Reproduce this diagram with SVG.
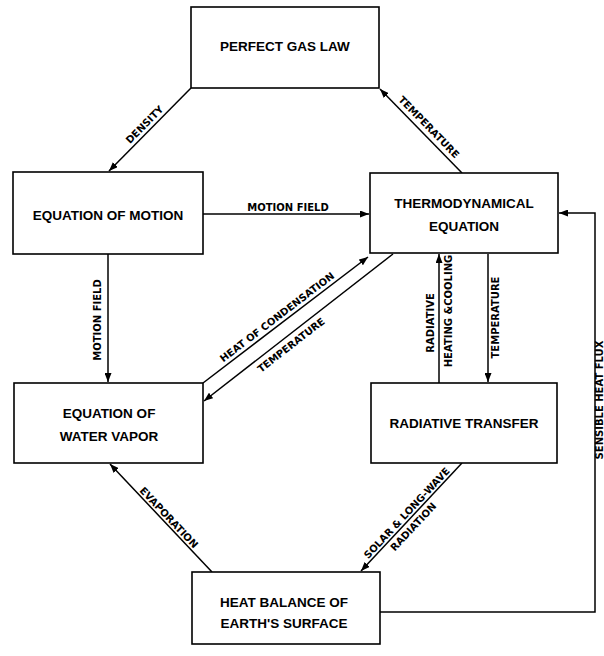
<svg xmlns="http://www.w3.org/2000/svg" width="604" height="656" viewBox="0 0 604 656">
<style>
.box{fill:#fff;stroke:#000;stroke-width:1.6}
.bt{font-family:"Liberation Sans",Arial,sans-serif;font-weight:bold;font-size:13.5px;text-anchor:middle;fill:#000}
.lt{font-family:"DejaVu Sans",sans-serif;font-weight:bold;font-size:10px;text-anchor:middle;fill:#000}
.ln{fill:none;stroke:#000;stroke-width:1.5}
</style>
<defs>
<marker id="ah" markerUnits="userSpaceOnUse" markerWidth="9" markerHeight="7" refX="9" refY="3.5" orient="auto">
<path d="M0,0 L9,3.5 L0,7 z" fill="#000"/>
</marker>
</defs>
<rect width="604" height="656" fill="#fff"/>
<g id="connectors">
<line class="ln" x1="191" y1="88" x2="109" y2="171" marker-end="url(#ah)"/>
<line class="ln" x1="462" y1="173" x2="380" y2="89" marker-end="url(#ah)"/>
<line class="ln" x1="203" y1="214" x2="369" y2="214" marker-end="url(#ah)"/>
<line class="ln" x1="108" y1="254" x2="108" y2="382" marker-end="url(#ah)"/>
<line class="ln" x1="203" y1="383" x2="368" y2="257" marker-end="url(#ah)"/>
<line class="ln" x1="393" y1="254" x2="204" y2="401" marker-end="url(#ah)"/>
<line class="ln" x1="439" y1="383" x2="439" y2="254" marker-end="url(#ah)"/>
<line class="ln" x1="488" y1="254" x2="488" y2="382" marker-end="url(#ah)"/>
<line class="ln" x1="462" y1="463" x2="361" y2="571" marker-end="url(#ah)"/>
<line class="ln" x1="212" y1="572" x2="110" y2="464" marker-end="url(#ah)"/>
<polyline class="ln" points="380,612 595,612 595,213 559,213" marker-end="url(#ah)"/>
<text class="lt" transform="translate(144.5,124.5) rotate(-45.3)" y="3.6">DENSITY</text>
<text class="lt" transform="translate(429,127) rotate(45.7)" y="3.6">TEMPERATURE</text>
<text class="lt" x="288" y="211">MOTION FIELD</text>
<text class="lt" transform="translate(97.5,320) rotate(-90)" y="3.6">MOTION FIELD</text>
<text class="lt" transform="translate(277,317) rotate(-37.4)" y="3.6" font-size="10.5">HEAT OF CONDENSATION</text>
<text class="lt" transform="translate(291,345) rotate(-37.9)" y="3.6">TEMPERATURE</text>
<text class="lt" transform="translate(430.3,323) rotate(-90)" y="3.6">RADIATIVE</text>
<text class="lt" transform="translate(449,311) rotate(-90)" y="3.3" font-size="9">HEATING &amp;COOLING</text>
<text class="lt" transform="translate(495.3,317.5) rotate(-90)" y="3.6">TEMPERATURE</text>
<text class="lt" transform="translate(406.7,513) rotate(-46.9)" y="3.6">SOLAR &amp; LONG-WAVE</text>
<text class="lt" transform="translate(413.3,526.7) rotate(-46.9)" y="3.6">RADIATION</text>
<text class="lt" transform="translate(169,517.5) rotate(46.6)" y="3.6">EVAPORATION</text>
<text class="lt" transform="translate(600,400) rotate(-90)" y="3" font-size="8.5">SENSIBLE HEAT FLUX</text>
</g>
<g id="perfect-gas-law">
<rect class="box" x="191" y="7" width="188" height="81"/>
<text class="bt" x="285" y="51">PERFECT GAS LAW</text>
</g>
<g id="equation-of-motion">
<rect class="box" x="13" y="172" width="190" height="82"/>
<text class="bt" x="108" y="220">EQUATION OF MOTION</text>
</g>
<g id="thermodynamical-equation">
<rect class="box" x="370" y="173" width="188" height="80"/>
<text class="bt" x="464" y="208">THERMODYNAMICAL</text>
<text class="bt" x="464" y="231">EQUATION</text>
</g>
<g id="equation-of-water-vapor">
<rect class="box" x="14" y="383" width="189" height="80"/>
<text class="bt" x="109" y="418">EQUATION OF</text>
<text class="bt" x="109" y="441">WATER VAPOR</text>
</g>
<g id="radiative-transfer">
<rect class="box" x="371" y="383" width="186" height="80"/>
<text class="bt" x="464" y="428">RADIATIVE TRANSFER</text>
</g>
<g id="heat-balance">
<rect class="box" x="192" y="572" width="188" height="72"/>
<text class="bt" x="284" y="607">HEAT BALANCE OF</text>
<text class="bt" x="284" y="628">EARTH'S SURFACE</text>
</g>
</svg>
